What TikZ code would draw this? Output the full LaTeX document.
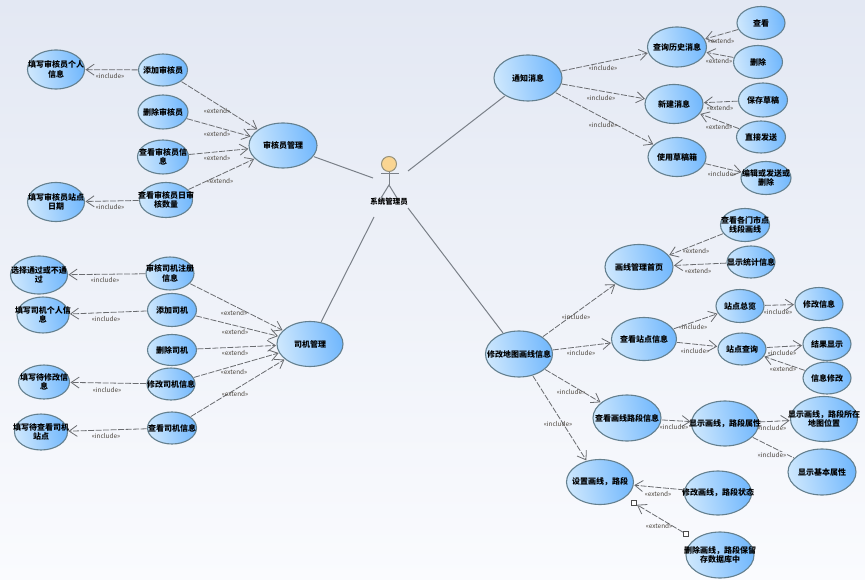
\documentclass[tikz,border=0pt]{standalone}
\usepackage{fontspec}
\setmainfont{Noto Sans CJK SC}
\usetikzlibrary{arrows.meta,shapes.geometric}
\definecolor{ucleft}{HTML}{CDE7FD}
\definecolor{ucright}{HTML}{72B8FD}
\definecolor{ucline}{HTML}{64808F}
\definecolor{depline}{HTML}{6A6C70}
\definecolor{assocline}{HTML}{7A8088}
\definecolor{bgtop}{HTML}{E3E8F3}
\definecolor{bgbottom}{HTML}{FAFBFE}
\definecolor{headfill}{HTML}{FAD592}
\definecolor{headline}{HTML}{97927A}
\definecolor{stereotext}{HTML}{4A443C}
\tikzset{
  uc/.style 2 args={ellipse,draw=ucline,line width=1.1pt,left color=ucleft,right color=ucright,
    shading angle=100,minimum width=#1,minimum height=#2,inner sep=0pt,outer sep=1pt},
  every label/.style={align=center,font=\fontsize{8}{9.5}\selectfont\bfseries,text=black,inner sep=0pt},
  dep/.style={draw=depline,line width=0.8pt,dash pattern=on 6pt off 1.5pt,-{Straight Barb[length=8pt,width=11pt]}},
  deploose/.style={draw=depline,line width=0.8pt,dash pattern=on 6pt off 1.5pt},
  assoc/.style={draw=assocline,line width=1pt},
  stereo/.style={font=\fontsize{6.4}{7.5}\selectfont,text=stereotext,inner sep=0.5pt},
  handle/.style={draw=black!70,fill=white,line width=0.6pt,minimum size=5pt,inner sep=0pt,outer sep=0.5pt}
}
\begin{document}
\begin{tikzpicture}[x=1pt,y=-1pt]
        \useasboundingbox (0,0) rectangle (865,580);
        \shade[top color=bgtop,bottom color=bgbottom] (0,0) rectangle (865,580);

        % actor
        \coordinate (armL) at (381,174);
        \coordinate (armR) at (399,174);
        \coordinate (hip) at (389,185);
        \coordinate (legL) at (381,198);
        \coordinate (legR) at (397,198);
        \coordinate (actorW) at (373,178);
        \coordinate (actorNE) at (408,171);
        \coordinate (actorSW) at (374,217);
        \coordinate (actorSE) at (408,208);
        \node[circle,draw=headline,line width=1pt,fill=headfill,minimum size=15pt,inner sep=0pt] (head) at (389,164) {};
        \draw[assoc] (head) -- (hip);
        \draw[assoc] (armL) -- (armR);
        \draw[assoc] (legL) -- (hip) -- (legR);
        \node[font=\fontsize{7.5}{9}\selectfont\bfseries,inner sep=0pt] (actor) at (389,202) {系统管理员};

        % reviewers
        \node[uc={68}{45},label=center:{审核员管理}] (admin) at (283,145.5) {};
        \node[uc={49}{32},label=center:{添加审核员}] (adminAdd) at (163,70) {};
        \node[uc={50}{34},label=center:{删除审核员}] (adminDel) at (163,112) {};
        \node[uc={51}{34},label=center:{查看审核员信\\息}] (adminView) at (163,157) {};
        \node[uc={53}{35},label=center:{查看审核员日审\\核数量}] (adminDay) at (166,200) {};
        \node[uc={57}{39},label=center:{填写审核员个人\\信息}] (adminInfo) at (56,69.5) {};
        \node[uc={57}{39},label=center:{填写审核员站点\\日期}] (adminDate) at (56,202) {};
        \draw[dep] (adminAdd) -- (admin);
        \draw[dep] (adminDel) -- (admin);
        \draw[dep] (adminView) -- (admin);
        \draw[dep] (adminDay) -- (admin);
        \draw[dep] (adminAdd) -- (adminInfo);
        \draw[dep] (adminDay) -- (adminDate);
        \node[stereo] (s1) at (110,76) {«include»};
        \node[stereo] (s2) at (217,111) {«extend»};
        \node[stereo] (s3) at (217,134) {«extend»};
        \node[stereo] (s4) at (217,158) {«extend»};
        \node[stereo] (s5) at (220,181) {«extend»};
        \node[stereo] (s6) at (110,207) {«include»};

        % drivers
        \node[uc={66}{45},label=center:{司机管理}] (driver) at (310,344) {};
        \node[uc={48}{33},label=center:{审核司机注册\\信息}] (driverReg) at (170,273.5) {};
        \node[uc={49}{33},label=center:{添加司机}] (driverAdd) at (172,310) {};
        \node[uc={49}{31},label=center:{删除司机}] (driverDel) at (172,350) {};
        \node[uc={48}{32},label=center:{修改司机信息}] (driverMod) at (171,384) {};
        \node[uc={49}{32},label=center:{查看司机信息}] (driverView) at (172,428) {};
        \node[uc={57}{38},label=center:{选择通过或不通\\过}] (driverPass) at (39,275) {};
        \node[uc={52}{36},label=center:{填写司机个人信\\息}] (driverInfo) at (43,315) {};
        \node[uc={51}{34},label=center:{填写待修改信\\息}] (driverEdit) at (44,382) {};
        \node[uc={53}{36},label=center:{填写待查看司机\\站点}] (driverSite) at (41,432) {};
        \draw[dep] (driverReg) -- (driver);
        \draw[dep] (driverAdd) -- (driver);
        \draw[dep] (driverDel) -- (driver);
        \draw[dep] (driverMod) -- (driver);
        \draw[dep] (driverView) -- (driver);
        \draw[dep] (driverReg) -- (driverPass);
        \draw[dep] (driverAdd) -- (driverInfo);
        \draw[dep] (driverMod) -- (driverEdit);
        \draw[dep] (driverView) -- (driverSite);
        \node[stereo] (s7) at (105,280) {«include»};
        \node[stereo] (s8) at (106,319) {«include»};
        \node[stereo] (s9) at (107,390) {«include»};
        \node[stereo] (s10) at (106,436) {«include»};
        \node[stereo] (s11) at (234,313) {«extend»};
        \node[stereo] (s12) at (235,332) {«extend»};
        \node[stereo] (s13) at (235,353) {«extend»};
        \node[stereo] (s14) at (234,372) {«extend»};
        \node[stereo] (s15) at (235,394) {«extend»};

        % messages
        \node[uc={68}{46},label=center:{通知消息}] (notice) at (528,78) {};
        \node[uc={59}{40},label=center:{查询历史消息}] (history) at (677,47) {};
        \node[uc={48}{33},label=center:{查看}] (histView) at (761,23) {};
        \node[uc={49}{33},label=center:{删除}] (histDel) at (758,62) {};
        \node[uc={58}{39},label=center:{新建消息}] (newMsg) at (674,104) {};
        \node[uc={49}{34},label=center:{保存草稿}] (draft) at (763,100) {};
        \node[uc={49}{32},label=center:{直接发送}] (send) at (761,137) {};
        \node[uc={58}{39},label=center:{使用草稿箱}] (drafts) at (677,157) {};
        \node[uc={50}{33},label=center:{编辑或发送或\\删除}] (draftEdit) at (766,178) {};
        \draw[dep] (notice) -- (history);
        \draw[dep] (notice) -- (newMsg);
        \draw[dep] (notice) -- (drafts);
        \draw[dep] (histView) -- (history);
        \draw[dep] (histDel) -- (history);
        \draw[dep] (draft) -- (newMsg);
        \draw[dep] (send) -- (newMsg);
        \draw[dep] (drafts) -- (draftEdit);
        \node[stereo] (s16) at (603,68) {«include»};
        \node[stereo] (s17) at (601,98) {«include»};
        \node[stereo] (s18) at (603,125) {«include»};
        \node[stereo] (s19) at (721,41) {«extend»};
        \node[stereo] (s20) at (719,61) {«extend»};
        \node[stereo] (s21) at (720,108) {«extend»};
        \node[stereo] (s22) at (719,127) {«extend»};
        \node[stereo] (s23) at (722,174) {«include»};

        % map lines
        \node[uc={67}{46},label=center:{修改地图画线信息}] (map) at (519,354) {};
        \node[uc={68}{45},label=center:{画线管理首页}] (home) at (639,267) {};
        \node[uc={49}{33},label=center:{查看各门市点\\线段画线}] (homeShop) at (745,225) {};
        \node[uc={48}{32},label=center:{显示统计信息}] (homeStat) at (751,262) {};
        \node[uc={65}{43},label=center:{查看站点信息}] (site) at (644,339) {};
        \node[uc={48}{33},label=center:{站点总览}] (siteAll) at (740,306) {};
        \node[uc={48}{33},label=center:{修改信息}] (siteMod) at (819,304) {};
        \node[uc={48}{32},label=center:{站点查询}] (siteFind) at (742,349) {};
        \node[uc={48}{33},label=center:{结果显示}] (siteRes) at (827,344) {};
        \node[uc={48}{32},label=center:{信息修改}] (siteEdit) at (827,378) {};
        \node[uc={68}{46},label=center:{查看画线路段信息}] (road) at (627,418) {};
        \node[uc={67}{45},label=center:{显示画线，路段属性}] (roadAttr) at (725,423.5) {};
        \node[uc={67}{45},label=center:{显示画线，路段所在\\地图位置}] (roadPos) at (824,419) {};
        \node[uc={68}{46},label=center:{显示基本属性}] (roadBase) at (822,472) {};
        \node[uc={67}{45},label=center:{设置画线，路段}] (setup) at (600,482) {};
        \node[uc={67}{44},label=center:{修改画线，路段状态}] (setupMod) at (718,493) {};
        \node[uc={68}{46},label=center:{删除画线，路段保留\\存数据库中}] (setupDel) at (720,555) {};
        \draw[dep] (map) -- (home);
        \draw[dep] (map) -- (site);
        \draw[dep] (map) -- (road);
        \draw[dep] (map) -- (setup);
        \draw[dep] (homeShop) -- (home);
        \draw[dep] (homeStat) -- (home);
        \draw[dep] (site) -- (siteAll);
        \draw[dep] (site) -- (siteFind);
        \draw[dep] (siteAll) -- (siteMod);
        \draw[dep] (siteFind) -- (siteRes);
        \draw[dep] (siteEdit) -- (siteFind);
        \draw[dep] (road) -- (roadAttr);
        \draw[dep] (roadAttr) -- (roadPos);
        \draw[deploose] (roadAttr) -- (roadBase);
        \draw[dep] (setupMod) -- (setup);
        % small handles on the selected connector
        \node[handle] (handleA) at (686,534) {};
        \node[handle] (handleB) at (634,503) {};
        \draw[dep] (handleA) -- (handleB);
        \node[stereo] (s24) at (576,317) {«include»};
        \node[stereo] (s25) at (581,353) {«include»};
        \node[stereo] (s26) at (571,392) {«include»};
        \node[stereo] (s27) at (558,424) {«include»};
        \node[stereo] (s28) at (696,251) {«extend»};
        \node[stereo] (s29) at (698,271) {«extend»};
        \node[stereo] (s30) at (693,327) {«include»};
        \node[stereo] (s31) at (695,351) {«include»};
        \node[stereo] (s32) at (778,312) {«include»};
        \node[stereo] (s33) at (782,353) {«include»};
        \node[stereo] (s34) at (783,369) {«extend»};
        \node[stereo] (s35) at (674,427) {«include»};
        \node[stereo] (s36) at (772,428) {«include»};
        \node[stereo,fill=bgbottom!60!bgtop] (s37) at (772,455) {«include»};
        \node[stereo] (s38) at (658,494) {«extend»};
        \node[stereo] (s39) at (659,526) {«extend»};

        % system manager links
        \draw[assoc] (actorW) -- (admin);
        \draw[assoc] (actorNE) -- (notice);
        \draw[assoc] (actorSW) -- (driver);
        \draw[assoc] (actorSE) -- (map);
\end{tikzpicture}
\end{document}
